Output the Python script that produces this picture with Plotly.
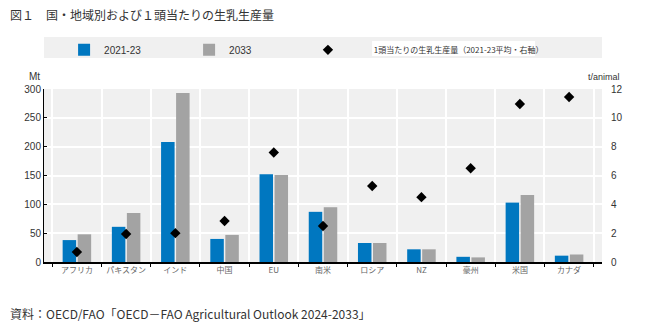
import plotly.graph_objects as go

categories = ["アフリカ", "パキスタン", "インド", "中国", "EU", "南米", "ロシア", "NZ", "豪州", "米国", "カナダ"]
prod_2021_23 = [38, 61, 208, 40, 152, 87, 33, 22, 9, 103, 11]
prod_2033 = [48, 85, 293, 47, 151, 95, 33, 22, 8, 116, 13]
yield_per_animal = [0.69, 1.94, 2.0, 2.84, 7.6, 2.5, 5.27, 4.5, 6.5, 10.96, 11.45]
left_ticks = [0, 50, 100, 150, 200, 250, 300]
right_ticks = [0, 2, 4, 6, 8, 10, 12]

JP = "Noto Sans CJK JP"
NUM = "Liberation Sans"

fig = go.Figure()
fig.add_trace(go.Bar(x=categories, y=prod_2021_23, name="2021-23", legend="legend",
                     marker=dict(color="#0077c0", line=dict(width=0))))
fig.add_trace(go.Bar(x=categories, y=prod_2033, name="2033", legend="legend",
                     marker=dict(color="#a3a3a3", line=dict(width=0))))
fig.add_trace(go.Scatter(x=categories, y=yield_per_animal, yaxis="y2", mode="markers",
                         legend="legend2",
                         name="\u3000\u3000\u3000 1頭当たりの生乳生産量（2021-23平均・右軸）",
                         marker=dict(symbol="diamond", size=8, color="#000000")))

fig.update_layout(
    width=650, height=330,
    margin=dict(l=44, r=48, t=89, b=68),
    paper_bgcolor="#ffffff",
    plot_bgcolor="#f0f0f0",
    barmode="group", bargap=0.39, bargroupgap=0.1,
    font=dict(family=NUM, size=10, color="#333333"),
    showlegend=True,
    legend=dict(orientation="h", x=0.036, y=1.31, xanchor="left", yanchor="top",
                bgcolor="rgba(0,0,0,0)", entrywidth=80, font=dict(family=NUM, size=10, color="#333333"),
                itemclick=False),
    legend2=dict(orientation="h", x=0.473, y=1.31, xanchor="left", yanchor="top",
                 bgcolor="rgba(0,0,0,0)", font=dict(family=JP, size=8, color="#333333"),
                 itemclick=False),
    xaxis=dict(tickson="boundaries", showgrid=True, gridcolor="#ffffff", gridwidth=1.5,
               ticks="outside", ticklen=3, tickcolor="#000000",
               showline=True, linecolor="#000000", linewidth=1.5,
               tickfont=dict(family=JP, size=8, color="#666666")),
    yaxis=dict(range=[0, 300], tickvals=left_ticks, showgrid=True, gridcolor="#ffffff", gridwidth=1.5,
               ticks="inside", ticklen=3, tickcolor="#000000",
               showline=True, linecolor="#000000", linewidth=1,
               tickfont=dict(family=NUM, size=10, color="#333333"), zeroline=False),
    yaxis2=dict(range=[0, 12], tickvals=right_ticks, overlaying="y", side="right", showgrid=False,
                showline=False, zeroline=False, ticklabelstandoff=8,
                tickfont=dict(family=NUM, size=10, color="#333333")),
    shapes=[
        dict(type="rect", xref="paper", yref="paper", x0=0, x1=1, y0=1.179, y1=1.30,
             fillcolor="#f0f0f0", line=dict(width=0), layer="below"),
        dict(type="rect", xref="paper", yref="paper", x0=0.588, x1=0.880, y0=1.191, y1=1.278,
             fillcolor="#ffffff", line=dict(width=0), layer="below"),
    ],
    annotations=[
        dict(text="図１　国・地域別および１頭当たりの生乳生産量", xref="paper", yref="paper",
             x=-0.065, y=1.428, xanchor="left", yanchor="middle", showarrow=False,
             font=dict(family=JP, size=12, color="#333333")),
        dict(text="Mt", xref="paper", yref="paper", x=-0.003, y=1.03, xanchor="right", yanchor="bottom",
             showarrow=False, font=dict(family=NUM, size=10, color="#333333")),
        dict(text="t/animal", xref="paper", yref="paper", x=1.036, y=1.03, xanchor="right", yanchor="bottom",
             showarrow=False, font=dict(family=NUM, size=9, color="#333333")),
        dict(text="資料：OECD/FAO「OECD－FAO Agricultural Outlook 2024-2033」", xref="paper", yref="paper",
             x=-0.065, y=-0.295, xanchor="left", yanchor="middle", showarrow=False,
             font=dict(family=JP, size=12, color="#333333")),
    ],
)

fig.write_html("out.html")
